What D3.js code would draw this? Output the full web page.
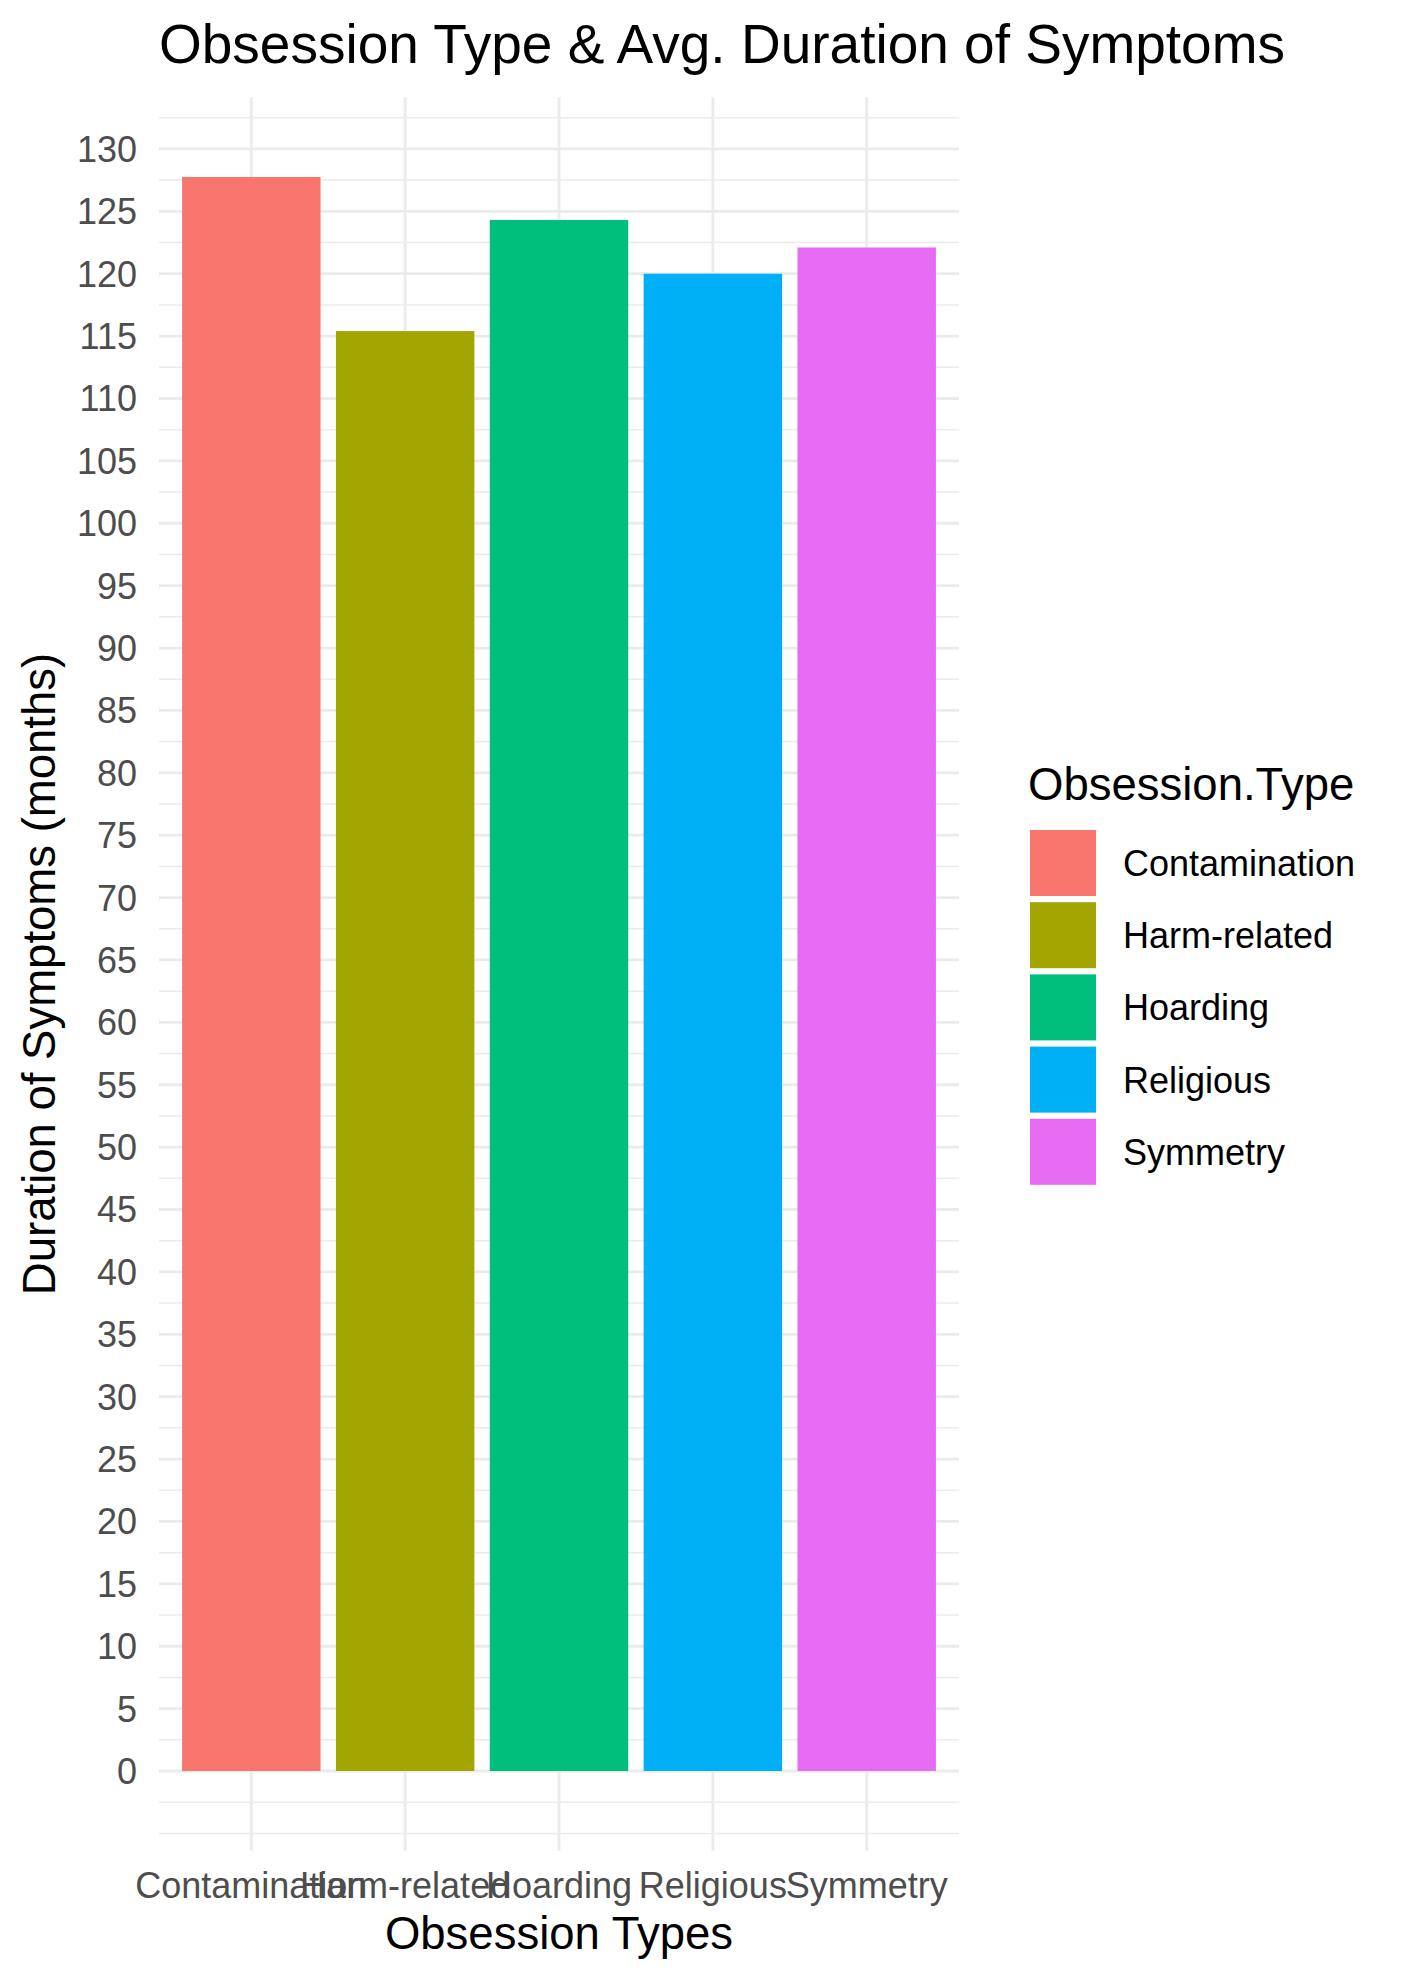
<!DOCTYPE html>
<html>
<head>
<meta charset="utf-8">
<script src="https://cdn.jsdelivr.net/npm/d3@7"></script>
<style>
body { margin: 0; background: #fff; }
text { font-family: "Liberation Sans", Arial, Helvetica, sans-serif; }
</style>
</head>
<body>
<svg id="chart"></svg>
<script>
const categories = ["Contamination", "Harm-related", "Hoarding", "Religious", "Symmetry"];
const durations = [127.75, 115.4, 124.3, 120.0, 122.1];
const colors = ["#F8766D", "#A3A500", "#00BF7D", "#00B0F6", "#E76BF3"];
const yTicks = d3.range(0, 131, 5);
const yMinor = d3.range(-5, 133, 2.5).filter(v => v % 5 !== 0 || v < 0);

const svg = d3.select("#chart")
.attr("width", 1404)
.attr("height", 1983);

svg.append("rect")
.attr("width", 1404)
.attr("height", 1983)
.style("fill", "#fff");

const panel = {left: 159, right: 959, top: 97.3, bottom: 1850.7};

// ggplot style 5% expansion around 0..max
const maxVal = d3.max(durations);
const y = d3.scaleLinear()
.domain([-0.05 * maxVal, 1.05 * maxVal])
.range([panel.bottom, panel.top]);

const x = d3.scalePoint()
.domain(categories)
.range([panel.left, panel.right])
.padding(0.6);
const barW = x.step() * 0.9;

// grid
svg.selectAll(".minor")
.data(yMinor)
.enter()
.append("line")
.attr("x1", panel.left)
.attr("x2", panel.right)
.attr("y1", d => y(d))
.attr("y2", d => y(d))
.style("stroke", "#EBEBEB")
.style("stroke-width", 1.5);

svg.selectAll(".major")
.data(yTicks)
.enter()
.append("line")
.attr("x1", panel.left)
.attr("x2", panel.right)
.attr("y1", d => y(d))
.attr("y2", d => y(d))
.style("stroke", "#EBEBEB")
.style("stroke-width", 2.8);

svg.selectAll(".vgrid")
.data(categories)
.enter()
.append("line")
.attr("x1", d => x(d))
.attr("x2", d => x(d))
.attr("y1", panel.top)
.attr("y2", panel.bottom)
.style("stroke", "#EBEBEB")
.style("stroke-width", 2.8);

// bars
svg.selectAll(".bar")
.data(categories)
.enter()
.append("rect")
.attr("x", d => x(d) - barW / 2)
.attr("width", barW)
.attr("y", (d, i) => y(durations[i]))
.attr("height", (d, i) => y(0) - y(durations[i]))
.style("fill", (d, i) => colors[i]);

// y tick labels
svg.selectAll(".ylab")
.data(yTicks)
.enter()
.append("text")
.attr("x", 137)
.attr("y", d => y(d))
.attr("dy", "0.36em")
.attr("text-anchor", "end")
.style("fill", "#4D4D4D")
.style("font-size", "36px")
.text(d => d);

// x tick labels
svg.selectAll(".xlab")
.data(categories)
.enter()
.append("text")
.attr("x", d => x(d))
.attr("y", 1898)
.attr("text-anchor", "middle")
.style("fill", "#4D4D4D")
.style("font-size", "36px")
.text(d => d);

// titles
svg.append("text")
.attr("x", 722)
.attr("y", 63)
.attr("text-anchor", "middle")
.style("font-size", "55px")
.text("Obsession Type & Avg. Duration of Symptoms");

svg.append("text")
.attr("x", (panel.left + panel.right) / 2)
.attr("y", 1949)
.attr("text-anchor", "middle")
.style("font-size", "45.5px")
.text("Obsession Types");

svg.append("text")
.attr("transform", "translate(55," + (panel.top + panel.bottom) / 2 + ") rotate(-90)")
.attr("text-anchor", "middle")
.style("font-size", "45.5px")
.text("Duration of Symptoms (months)");

// legend
svg.append("text")
.attr("x", 1028)
.attr("y", 800)
.style("font-size", "45.5px")
.text("Obsession.Type");

const legend = svg.selectAll(".key")
.data(categories)
.enter()
.append("g")
.attr("transform", (d, i) => "translate(1030," + (830 + i * 72.2) + ")");

legend.append("rect")
.attr("width", 66)
.attr("height", 66)
.style("fill", (d, i) => colors[i]);

legend.append("text")
.attr("x", 93)
.attr("y", 33)
.attr("dy", "0.36em")
.style("font-size", "36px")
.text(d => d);
</script>
</body>
</html>
